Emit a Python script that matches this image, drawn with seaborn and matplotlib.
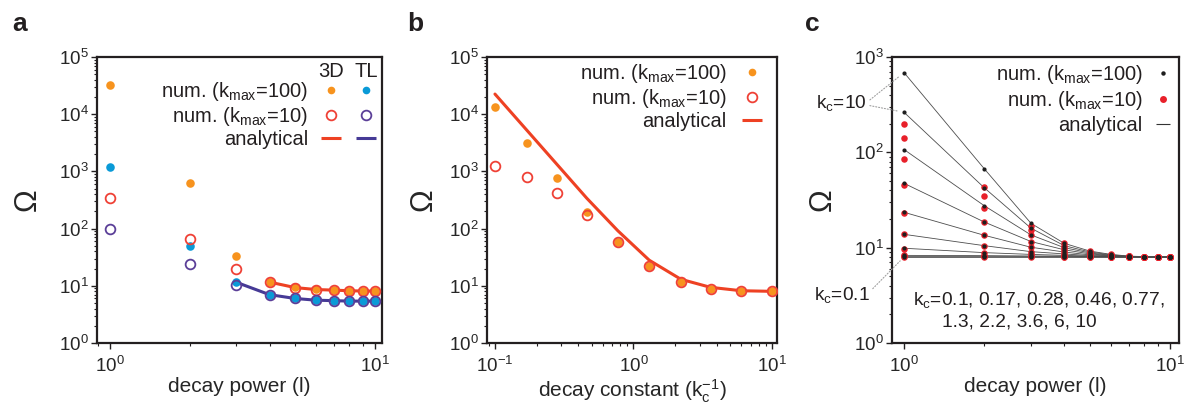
import matplotlib
matplotlib.use("Agg")
import numpy as np
import pandas as pd
import matplotlib.pyplot as plt
import seaborn as sns
from matplotlib.lines import Line2D
from matplotlib.legend_handler import HandlerTuple
from matplotlib.ticker import NullFormatter

# ---- data: panel a (decay power l) ----
l_vals = [1, 2, 3, 4, 5, 6, 7, 8, 9, 10]
a_3d_k100 = [3.2e4, 630, 33, 11.7, 9.4, 8.7, 8.4, 8.2, 8.1, 8.1]
a_tl_k100 = [1200, 50, 11.8, 7.0, 6.0, 5.6, 5.5, 5.4, 5.4, 5.4]
a_3d_k10 = [345, 65, 20, 11.5, 9.3, 8.6, 8.4, 8.2, 8.1, 8.1]
a_tl_k10 = [100, 24, 10.2, 7.0, 6.0, 5.6, 5.5, 5.4, 5.4, 5.4]
a_3d_an_l = [4, 5, 6, 7, 8, 9, 10]
a_3d_an = [11.6, 9.3, 8.6, 8.4, 8.2, 8.1, 8.1]
a_tl_an_l = [3, 4, 5, 6, 7, 8, 9, 10]
a_tl_an = [11.5, 7.0, 6.0, 5.6, 5.5, 5.4, 5.4, 5.4]

# ---- data: panel b (decay constant kc^-1) ----
kc_inv = [0.1, 0.17, 0.28, 0.46, 0.77, 1.3, 2.2, 3.6, 6, 10]
b_k100 = [1.35e4, 3200, 760, 198, 59, 22.5, 11.8, 8.8, 8.1, 8.0]
b_k10 = [1240, 810, 425, 173, 58, 22.5, 11.8, 8.8, 8.1, 8.0]
b_an = [2.25e4, 5240, 1330, 340, 92, 28, 13, 9.4, 8.2, 8.0]

# ---- data: panel c (one row per kc, kc = 0.1 ... 10; columns l = 1..10) ----
kc_vals = [0.1, 0.17, 0.28, 0.46, 0.77, 1.3, 2.2, 3.6, 6, 10]
c_k100 = [
    [8.0, 8.0, 8.0, 8.0, 8.0, 8.0, 8.0, 8.0, 8.0, 8.0],
    [8.1, 8.1, 8.1, 8.05, 8.03, 8.01, 8.0, 8.0, 8.0, 8.0],
    [8.3, 8.25, 8.18, 8.15, 8.08, 8.03, 8.01, 8.0, 8.0, 8.0],
    [9.86, 8.87, 8.5, 8.3, 8.15, 8.05, 8.02, 8.0, 8.0, 8.0],
    [13.8, 10.5, 9.08, 8.6, 8.25, 8.1, 8.04, 8.01, 8.0, 8.0],
    [23.5, 13.5, 10.1, 9.0, 8.4, 8.2, 8.06, 8.02, 8.0, 8.0],
    [47.3, 18.6, 11.6, 9.5, 8.6, 8.25, 8.08, 8.03, 8.01, 8.0],
    [107, 27.6, 13.6, 10.0, 8.8, 8.3, 8.1, 8.04, 8.01, 8.0],
    [263, 42.6, 16.0, 10.5, 9.0, 8.4, 8.12, 8.05, 8.02, 8.0],
    [686, 67.5, 18.0, 11.1, 9.2, 8.5, 8.15, 8.06, 8.02, 8.0],
]
c_k10 = [
    [8.0, 8.0, 8.0, 8.0, 8.0, 8.0, 8.0, 8.0, 8.0, 8.0],
    [8.1, 8.1, 8.1, 8.05, 8.03, 8.01, 8.0, 8.0, 8.0, 8.0],
    [8.3, 8.25, 8.18, 8.15, 8.08, 8.03, 8.01, 8.0, 8.0, 8.0],
    [9.8, 8.87, 8.5, 8.3, 8.15, 8.05, 8.02, 8.0, 8.0, 8.0],
    [13.8, 10.5, 9.08, 8.6, 8.25, 8.1, 8.04, 8.01, 8.0, 8.0],
    [23.3, 13.5, 10.1, 9.0, 8.4, 8.2, 8.06, 8.02, 8.0, 8.0],
    [45.5, 18.6, 11.6, 9.5, 8.6, 8.25, 8.08, 8.03, 8.01, 8.0],
    [85, 25.9, 13.6, 10.0, 8.8, 8.3, 8.1, 8.04, 8.01, 8.0],
    [141, 34.9, 15.2, 10.5, 9.0, 8.4, 8.12, 8.05, 8.02, 8.0],
    [197, 43.7, 17.0, 11.1, 9.2, 8.5, 8.15, 8.06, 8.02, 8.0],
]

# colours
ORANGE = "#F7931E"
BLUE = "#0A9AD7"
RED_OPEN = "#EF4136"
PURPLE = "#5B3F98"
RED_LINE = "#EE4123"
TL_LINE = "#463A96"
C_BLACK = "#1E1E1E"
C_RED = "#E8202A"

sns.set_style("ticks")
plt.rcParams["font.family"] = ["Liberation Sans", "DejaVu Sans"]
plt.rcParams["mathtext.fontset"] = "custom"
plt.rcParams["mathtext.rm"] = "Liberation Sans"
plt.rcParams["mathtext.it"] = "Liberation Sans:italic"
plt.rcParams["mathtext.bf"] = "Liberation Sans:bold"
plt.rcParams["mathtext.default"] = "regular"
plt.rcParams["text.color"] = "#231F20"

FS_TICK = 13.5
FS_LEG = 14.5
FS_LAB = 15

fig = plt.figure(figsize=(11.86, 4.04), dpi=100)
ax_a = fig.add_axes([97 / 1186, 61 / 404, 285 / 1186, 286 / 404])
ax_b = fig.add_axes([487 / 1186, 61 / 404, 290 / 1186, 286 / 404])
ax_c = fig.add_axes([892 / 1186, 61 / 404, 287 / 1186, 286 / 404])


def style_axes(ax):
    ax.set_xscale("log")
    ax.set_yscale("log")
    for s in ax.spines.values():
        s.set_visible(True)
        s.set_linewidth(1.6)
        s.set_color("#231F20")
    ax.tick_params(which="major", direction="out", length=4, width=1.0,
                   labelsize=FS_TICK, color="#231F20", top=False, right=False)
    ax.tick_params(which="minor", direction="out", length=2.5, width=0.8,
                   color="#231F20", top=False, right=False)
    ax.tick_params(axis="y", which="major", pad=2)
    ax.tick_params(axis="x", which="major", pad=5)
    ax.xaxis.set_minor_formatter(NullFormatter())
    ax.yaxis.set_minor_formatter(NullFormatter())
    ax.set_ylabel("Ω", fontsize=22)
    ax.yaxis.set_label_coords(-0.19, 0.5)


for ax in (ax_a, ax_b, ax_c):
    style_axes(ax)

legend_kw = dict(loc="upper right", frameon=False, markerfirst=False,
                 fontsize=FS_LEG, borderpad=0, borderaxespad=0, labelspacing=0.1)
labels = ["num. (k$_{max}$=100)", "num. (k$_{max}$=10)", "analytical"]

# ---- panel a ----
sns.lineplot(x=a_3d_an_l, y=a_3d_an, ax=ax_a, color=RED_LINE, lw=2.2)
sns.lineplot(x=a_tl_an_l, y=a_tl_an, ax=ax_a, color=TL_LINE, lw=2.2)
sns.scatterplot(x=l_vals, y=a_3d_k100, ax=ax_a, color=ORANGE, s=38, linewidth=0, zorder=3)
sns.scatterplot(x=l_vals, y=a_tl_k100, ax=ax_a, color=BLUE, s=38, linewidth=0, zorder=3)
sns.lineplot(x=l_vals, y=a_3d_k10, ax=ax_a, linestyle="", marker="o", markersize=7,
             markerfacecolor="none", markeredgecolor=RED_OPEN, markeredgewidth=1.3, zorder=4)
sns.lineplot(x=l_vals, y=a_tl_k10, ax=ax_a, linestyle="", marker="o", markersize=7,
             markerfacecolor="none", markeredgecolor=PURPLE, markeredgewidth=1.3, zorder=4)
ax_a.set_xlim(0.893, 10.63)
ax_a.set_ylim(1, 1e5)
ax_a.set_xlabel("decay power (l)", fontsize=FS_LAB)
ax_a.xaxis.set_label_coords(0.5, -0.12)

h_k100 = (Line2D([], [], ls="", marker="o", ms=5.5, color=ORANGE, mew=0),
          Line2D([], [], ls="", marker="o", ms=5.5, color=BLUE, mew=0))
h_k10 = (Line2D([], [], ls="", marker="o", ms=7, mfc="none", mec=RED_OPEN, mew=1.3),
         Line2D([], [], ls="", marker="o", ms=7, mfc="none", mec=PURPLE, mew=1.3))
h_an = (Line2D([], [], ls="", marker="_", ms=14, mec=RED_LINE, mew=2.2),
        Line2D([], [], ls="", marker="_", ms=14, mec=TL_LINE, mew=2.2))
ax_a.legend([h_k100, h_k10, h_an], labels,
            handler_map={tuple: HandlerTuple(ndivide=None, pad=0)},
            bbox_to_anchor=(1.005, 0.92), handlelength=3.48, handletextpad=0.27,
            **legend_kw)
ax_a.text(0.821, 0.948, "3D", transform=ax_a.transAxes, ha="center", va="center", fontsize=FS_LEG)
ax_a.text(0.944, 0.948, "TL", transform=ax_a.transAxes, ha="center", va="center", fontsize=FS_LEG)

# ---- panel b ----
sns.lineplot(x=kc_inv, y=b_an, ax=ax_b, color=RED_LINE, lw=2.2)
sns.scatterplot(x=kc_inv, y=b_k100, ax=ax_b, color=ORANGE, s=38, linewidth=0, zorder=3)
sns.lineplot(x=kc_inv, y=b_k10, ax=ax_b, linestyle="", marker="o", markersize=7,
             markerfacecolor="none", markeredgecolor=RED_OPEN, markeredgewidth=1.3, zorder=4)
ax_b.set_xlim(0.0876, 10.87)
ax_b.set_ylim(1, 1e5)
ax_b.set_xlabel("decay constant (k$_{c}^{-1}$)", fontsize=FS_LAB)
ax_b.xaxis.set_label_coords(0.5, -0.12)
ax_b.yaxis.set_label_coords(-0.165, 0.5)
hb = [Line2D([], [], ls="", marker="o", ms=5.5, color=ORANGE, mew=0),
      Line2D([], [], ls="", marker="o", ms=7, mfc="none", mec=RED_OPEN, mew=1.3),
      Line2D([], [], ls="", marker="_", ms=14, mec=RED_LINE, mew=2.2)]
ax_b.legend(hb, labels, bbox_to_anchor=(0.983, 0.983), handlelength=2.0,
            handletextpad=0.25, **legend_kw)

# ---- panel c ----
rows = []
for kc, r100, r10 in zip(kc_vals, c_k100, c_k10):
    for l, v1, v2 in zip(l_vals, r100, r10):
        rows.append({"kc": kc, "l": l, "k100": v1, "k10": v2})
df_c = pd.DataFrame(rows)
sns.lineplot(data=df_c, x="l", y="k100", units="kc", estimator=None, ax=ax_c,
             color="#4D4D4D", lw=0.6)
sns.scatterplot(data=df_c, x="l", y="k10", ax=ax_c, color=C_RED, s=22, linewidth=0, zorder=3)
sns.scatterplot(data=df_c, x="l", y="k100", ax=ax_c, color=C_BLACK, s=9, linewidth=0, zorder=4)
ax_c.set_xlim(0.901, 10.8)
ax_c.set_ylim(1, 1e3)
ax_c.set_xlabel("decay power (l)", fontsize=FS_LAB)
ax_c.xaxis.set_label_coords(0.5, -0.12)
hc = [Line2D([], [], ls="", marker="o", ms=3.2, color=C_BLACK, mew=0),
      Line2D([], [], ls="", marker="o", ms=5, color=C_RED, mew=0),
      Line2D([], [], ls="", marker="_", ms=10, mec="#333333", mew=0.8)]
leg_c = dict(legend_kw, labelspacing=0.18)
ax_c.legend(hc, labels, bbox_to_anchor=(0.993, 0.98), handlelength=1.4,
            handletextpad=0.3, **leg_c)
ax_c.text(0.073, 0.150, "k$_{c}$=0.1, 0.17, 0.28, 0.46, 0.77,", transform=ax_c.transAxes,
          ha="left", va="center", fontsize=13.8)
ax_c.text(0.175, 0.073, "1.3, 2.2, 3.6, 6, 10", transform=ax_c.transAxes,
          ha="left", va="center", fontsize=13.8)

# kc labels with dotted leaders
ax_c.text(-0.087, 0.839, "k$_{c}$=10", transform=ax_c.transAxes, ha="right", va="center", fontsize=13.8)
ax_c.text(-0.077, 0.168, "k$_{c}$=0.1", transform=ax_c.transAxes, ha="right", va="center", fontsize=13.8)
dot_kw = dict(arrowstyle="-", linestyle=":", color="#A0A0A0", lw=0.8, shrinkA=0, shrinkB=4)
ax_c.annotate("", xy=(l_vals[0], c_k100[-1][0]), xytext=(-0.077, 0.85),
              textcoords="axes fraction", arrowprops=dot_kw, annotation_clip=False)
ax_c.annotate("", xy=(l_vals[0], c_k100[-2][0]), xytext=(-0.077, 0.83),
              textcoords="axes fraction", arrowprops=dot_kw, annotation_clip=False)
ax_c.annotate("", xy=(l_vals[0], c_k100[0][0]), xytext=(-0.067, 0.19),
              textcoords="axes fraction", arrowprops=dot_kw, annotation_clip=False)

# panel letters
for x, letter in [(12, "a"), (407, "b"), (805, "c")]:
    fig.text(x / 1186, 1 - 31 / 404, letter, fontsize=19, fontweight="bold",
             ha="left", va="baseline")

fig.savefig("out.png", dpi=100)
